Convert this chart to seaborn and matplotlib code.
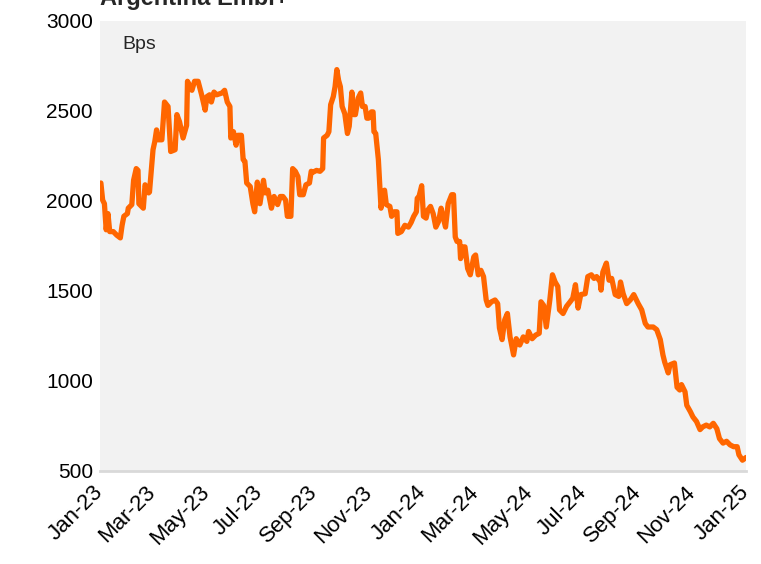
import matplotlib
matplotlib.use("Agg")
import matplotlib.pyplot as plt
import matplotlib.dates as mdates
import seaborn as sns
import pandas as pd
import numpy as np

# Days since 2023-01-01 and EMBI+ spread (bps)
day_offsets = [1, 3, 5, 7, 9, 11, 15, 19, 23, 25, 27, 31, 32, 36, 38, 41, 43, 44, 49, 51,
               55, 56, 60, 62, 64, 66, 70, 73, 77, 80, 85, 87, 90, 94, 98, 99, 104, 107, 111, 115,
               119, 121, 124, 126, 129, 132, 138, 141, 144, 147, 148, 151, 154, 156, 160, 162, 164, 166, 170, 173,
               175, 178, 181, 185, 187, 190, 194, 197, 201, 204, 207, 210, 212, 216, 218, 221, 224, 226, 230, 233,
               237, 239, 241, 245, 249, 252, 253, 257, 259, 261, 264, 266, 268, 270, 272, 274, 277, 280, 282, 285,
               287, 289, 292, 295, 297, 300, 302, 304, 307, 309, 310, 312, 315, 318, 321, 322, 324, 328, 330, 333,
               336, 337, 341, 345, 349, 352, 355, 358, 359, 361, 364, 366, 369, 371, 374, 377, 380, 383, 386, 388,
               391, 394, 398, 400, 402, 404, 407, 408, 411, 413, 416, 419, 423, 425, 428, 431, 434, 437, 439, 443,
               447, 450, 452, 455, 458, 461, 464, 468, 471, 475, 479, 483, 485, 489, 493, 497, 499, 502, 505, 509,
               512, 515, 518, 520, 524, 528, 532, 535, 538, 541, 544, 549, 552, 556, 559, 562, 566, 567, 569, 573,
               576, 579, 583, 587, 589, 592, 596, 600, 604, 609, 613, 617, 620, 626, 630, 634, 637, 639, 643, 645,
               650, 653, 656, 658, 662, 664, 668, 671, 675, 679, 682, 686, 690, 694, 698, 701, 705, 709, 713, 717,
               721, 723, 727, 731]
spread_bps = [2100, 2005, 1985, 1840, 1930, 1830, 1830, 1810, 1795, 1865, 1915, 1930, 1960, 1980, 2115, 2180, 2170, 1985, 1960, 2090,
              2045, 2050, 2285, 2330, 2395, 2340, 2340, 2550, 2525, 2275, 2285, 2480, 2440, 2350, 2420, 2665, 2615, 2665, 2665, 2590,
              2505, 2580, 2590, 2550, 2605, 2590, 2600, 2615, 2550, 2525, 2350, 2385, 2310, 2365, 2365, 2230, 2220, 2100, 2080, 1985,
              1940, 2105, 1985, 2115, 2045, 2060, 1960, 2025, 1980, 2025, 2025, 2005, 1915, 1915, 2180, 2165, 2135, 2035, 2035, 2090,
              2100, 2165, 2160, 2170, 2165, 2180, 2350, 2365, 2385, 2535, 2580, 2635, 2730, 2670, 2635, 2525, 2485, 2375, 2415, 2605,
              2480, 2480, 2570, 2600, 2525, 2525, 2460, 2460, 2495, 2495, 2385, 2375, 2230, 1960, 2050, 2060, 1980, 1970, 1915, 1940,
              1940, 1820, 1830, 1865, 1855, 1880, 1915, 1940, 2015, 2025, 2085, 1915, 1905, 1950, 1970, 1930, 1855, 1885, 1960, 1915,
              1855, 1985, 2035, 2035, 1800, 1775, 1775, 1680, 1745, 1745, 1625, 1590, 1690, 1700, 1590, 1615, 1580, 1450, 1420, 1440,
              1450, 1430, 1295, 1230, 1340, 1375, 1245, 1145, 1235, 1200, 1245, 1220, 1275, 1235, 1255, 1265, 1440, 1420, 1300, 1450,
              1590, 1550, 1525, 1395, 1375, 1415, 1440, 1460, 1535, 1405, 1480, 1485, 1580, 1590, 1570, 1580, 1550, 1505, 1605, 1655,
              1560, 1570, 1480, 1470, 1550, 1485, 1430, 1450, 1480, 1430, 1395, 1320, 1300, 1300, 1285, 1230, 1145, 1105, 1045, 1090,
              1100, 965, 950, 980, 940, 865, 830, 800, 775, 730, 745, 755, 745, 765, 735, 680, 655, 665, 645, 635,
              635, 590, 560, 575]

y_ticks = [500, 1000, 1500, 2000, 2500, 3000]
title_text = "Argentina Embi+"
unit_text = "Bps"

start = pd.Timestamp("2023-01-01")
df = pd.DataFrame({
    "date": start + pd.to_timedelta(day_offsets, unit="D"),
    "bps": spread_bps,
})

sns.set_style("white")
plt.rcParams["font.family"] = ["Liberation Sans", "DejaVu Sans"]

fig = plt.figure(figsize=(7.61, 5.64), dpi=100)
ax = fig.add_axes([100 / 761, 1 - 471 / 564, 646 / 761, 450 / 564])
ax.set_facecolor("#F2F2F2")

sns.lineplot(data=df, x="date", y="bps", ax=ax, color="#FF6600", linewidth=3.8)

ax.set_xlim(pd.Timestamp("2023-01-01"), pd.Timestamp("2025-01-01"))
ax.set_ylim(500, 3000)
ax.set_yticks(y_ticks)
ax.set_yticklabels([str(v) for v in y_ticks])
ax.xaxis.set_major_locator(mdates.MonthLocator(bymonth=[1, 3, 5, 7, 9, 11]))
ax.xaxis.set_major_formatter(mdates.DateFormatter("%b-%y"))
ax.set_xlabel("")
ax.set_ylabel("")

ax.tick_params(axis="both", length=0, colors="black")
ax.tick_params(axis="y", pad=5, labelsize=15)
ax.tick_params(axis="x", pad=13, labelsize=16)
for lbl in ax.get_xticklabels():
    lbl.set_rotation(45)
    lbl.set_ha("right")
    lbl.set_va("center")
    lbl.set_rotation_mode("anchor")

for s in ["top", "right", "left"]:
    ax.spines[s].set_visible(False)
ax.spines["bottom"].set_color("#D9D9D9")
ax.spines["bottom"].set_linewidth(2)

ax.text(0.034, 0.947, unit_text, transform=ax.transAxes, fontsize=14, va="center", ha="left")
fig.text(100 / 761, 1 - 5 / 564, title_text, fontsize=17, fontweight="bold", ha="left", va="baseline")

fig.savefig("out.png", dpi=100)
